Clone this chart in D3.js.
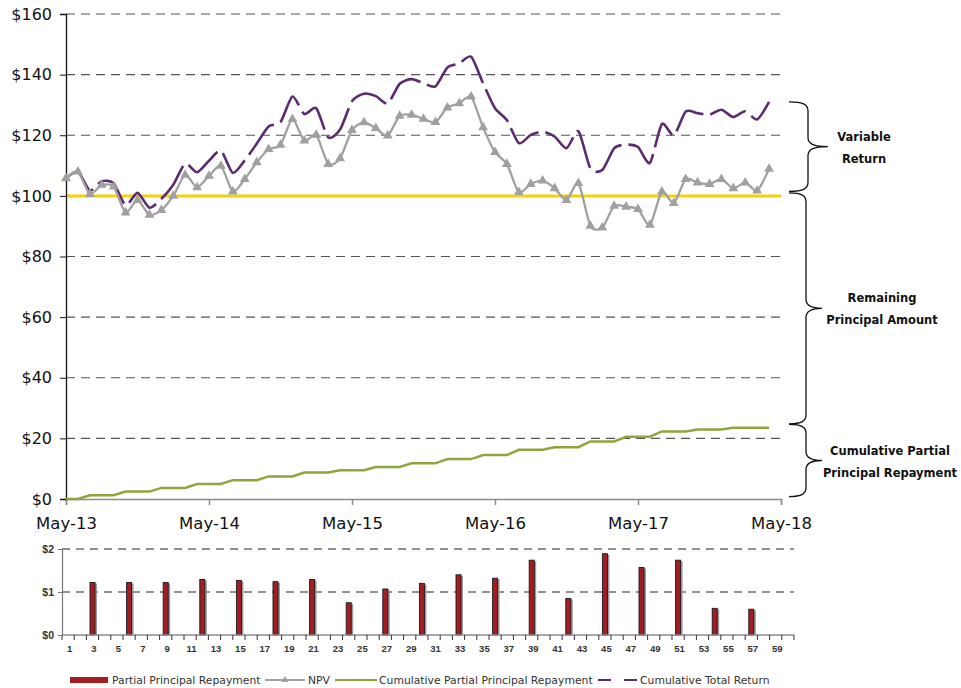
<!DOCTYPE html>
<html>
<head>
<meta charset="utf-8">
<script src="https://cdn.jsdelivr.net/npm/d3@7"></script>
<style>
  body { margin: 0; background: #fff; }
  text { font-family: "DejaVu Sans", Verdana, sans-serif; }
</style>
</head>
<body>
<script>
// ---- data ----
var yearLabels = ["May-13", "May-14", "May-15", "May-16", "May-17", "May-18"];
var yearMonths = [0, 12, 24, 36, 48, 60];
var yTicks = [0, 20, 40, 60, 80, 100, 120, 140, 160];
var principal = 100;

// monthly values, month 0 = May-13
var npv = [105.8, 108.0, 100.6, 103.6, 103.0, 94.5, 98.6, 93.7, 95.3, 100.0,
  106.9, 102.8, 106.6, 109.9, 101.4, 105.5, 111.0, 115.4, 116.8, 125.3,
  118.2, 120.1, 110.5, 112.4, 121.7, 124.2, 122.3, 119.9, 126.4, 126.7,
  125.4, 124.3, 129.1, 130.5, 132.7, 122.6, 114.4, 110.5, 101.2, 103.9,
  105.0, 102.5, 98.6, 104.2, 90.1, 89.5, 96.7, 96.4, 95.6, 90.4,
  101.4, 97.6, 105.5, 104.4, 103.9, 105.5, 102.5, 104.4, 101.7, 108.9];

var cumPartial = [0, 0, 1.22, 1.22, 1.22, 2.44, 2.44, 2.44, 3.66, 3.66,
  3.66, 4.95, 4.95, 4.95, 6.22, 6.22, 6.22, 7.46, 7.46, 7.46,
  8.75, 8.75, 8.75, 9.50, 9.50, 9.50, 10.57, 10.57, 10.57, 11.77,
  11.77, 11.77, 13.17, 13.17, 13.17, 14.49, 14.49, 14.49, 16.23, 16.23,
  16.23, 17.08, 17.08, 17.08, 18.97, 18.97, 18.97, 20.54, 20.54, 20.54,
  22.28, 22.28, 22.28, 22.90, 22.90, 22.90, 23.50, 23.50, 23.50, 23.50];

var cumTotal = [105.8, 108.0, 101.8, 104.8, 104.2, 96.9, 101.0, 96.1, 99.0, 103.7,
  110.6, 107.8, 111.6, 114.9, 107.6, 111.7, 117.2, 122.9, 124.3, 132.8,
  127.0, 128.9, 119.3, 121.9, 131.2, 133.7, 132.9, 130.5, 137.0, 138.5,
  137.2, 136.1, 142.3, 143.7, 145.9, 137.1, 128.9, 125.0, 117.4, 120.1,
  121.2, 119.6, 115.7, 121.3, 109.1, 108.5, 115.7, 116.9, 116.1, 110.9,
  123.7, 119.9, 127.8, 127.3, 126.8, 128.4, 126.0, 127.9, 125.2, 131.0];

// bar chart: payment number (1..60) and partial principal repayment
var payCategories = d3.range(1, 61);
var repayCats = [3, 6, 9, 12, 15, 18, 21, 24, 27, 30, 33, 36, 39, 42, 45, 48, 51, 54, 57];
var repayValues = [1.22, 1.22, 1.22, 1.29, 1.27, 1.24, 1.29, 0.75, 1.07, 1.20,
  1.40, 1.32, 1.74, 0.85, 1.89, 1.57, 1.74, 0.62, 0.60];
var barTicks = [0, 1, 2];

// brace annotations: [top value, bottom value, label lines]
var braces = [
  { top: 131, bottom: 101.5, lines: ["Variable", "Return"] },
  { top: 101, bottom: 24.8, lines: ["Remaining", "Principal Amount"] },
  { top: 24.6, bottom: 0.8, lines: ["Cumulative Partial", "Principal Repayment"] }
];

var seriesNames = ["Partial Principal Repayment", "NPV", "Cumulative Partial Principal Repayment", "Cumulative Total Return"];

// ---- colours ----
var cRed = "#a31d22", cGray = "#a0a0a0", cGreen = "#8fa63a", cPurple = "#5c2a6e", cYellow = "#f5d10c";

var svg = d3.select("body").append("svg")
  .attr("width", 961).attr("height", 688)
  .style("background", "#fff");

// ================= top chart =================
var x = d3.scaleLinear().domain([0, 60]).range([66, 781]);
var y = d3.scaleLinear().domain([0, 160]).range([499, 14]);

svg.append("g").selectAll("line")
  .data(yTicks.filter(function (d) { return d > 0; }))
  .enter().append("line")
  .attr("x1", x(0)).attr("x2", x(60))
  .attr("y1", function (d) { return y(d); })
  .attr("y2", function (d) { return y(d); })
  .attr("stroke", "#555").attr("stroke-width", 1.2)
  .attr("stroke-dasharray", "9,6");

// principal level
svg.append("line")
  .attr("x1", x(0)).attr("x2", x(60))
  .attr("y1", y(principal)).attr("y2", y(principal))
  .attr("stroke", cYellow).attr("stroke-width", 3);

var xAxis = svg.append("g")
  .attr("transform", "translate(0," + y(0) + ")")
  .call(d3.axisBottom(x).tickValues(yearMonths)
    .tickFormat(function (d, i) { return yearLabels[i]; })
    .tickSize(6).tickPadding(12));
xAxis.select(".domain").attr("stroke", "#8c8c8c").attr("stroke-width", 1.5);
xAxis.selectAll(".tick line").attr("stroke", "#8c8c8c").attr("stroke-width", 1.5);
xAxis.selectAll("text").attr("font-size", 16.5).attr("fill", "#111");

var yAxis = svg.append("g")
  .attr("transform", "translate(" + x(0) + ",0)")
  .call(d3.axisLeft(y).tickValues(yTicks)
    .tickFormat(function (d) { return "$" + d; })
    .tickSize(6).tickPadding(8));
yAxis.select(".domain").attr("stroke", "#111").attr("stroke-width", 1.3);
yAxis.selectAll(".tick line").attr("stroke", "#111");
yAxis.selectAll("text").attr("font-size", 16).attr("fill", "#111");

var smooth = d3.curveCardinal.tension(0.3);

// cumulative partial principal repayment
svg.append("path")
  .datum(cumPartial)
  .attr("fill", "none").attr("stroke", cGreen).attr("stroke-width", 2.5)
  .attr("d", d3.line()
    .x(function (d, i) { return x(i); })
    .y(function (d) { return y(d); }));

// cumulative total return
svg.append("path")
  .datum(cumTotal)
  .attr("fill", "none").attr("stroke", cPurple).attr("stroke-width", 2.6)
  .attr("stroke-dasharray", "40,7")
  .attr("d", d3.line().curve(smooth)
    .x(function (d, i) { return x(i); })
    .y(function (d) { return y(d); }));

// NPV
svg.append("path")
  .datum(npv)
  .attr("fill", "none").attr("stroke", cGray).attr("stroke-width", 2.3)
  .attr("d", d3.line().curve(smooth)
    .x(function (d, i) { return x(i); })
    .y(function (d) { return y(d); }));

var tri = d3.symbol().type(d3.symbolTriangle).size(42);
svg.append("g").selectAll("path")
  .data(npv)
  .enter().append("path")
  .attr("d", tri)
  .attr("transform", function (d, i) { return "translate(" + x(i) + "," + y(d) + ")"; })
  .attr("fill", cGray);

// braces
function bracePath(x0, xv, tip, y0, y1) {
  var ym = (y0 + y1) / 2, r = 9;
  return "M" + x0 + "," + y0 +
    "C" + (xv - 4) + "," + y0 + " " + xv + "," + (y0 + 3) + " " + xv + "," + (y0 + r) +
    "L" + xv + "," + (ym - r) +
    "C" + xv + "," + (ym - 3) + " " + (xv + 5) + "," + ym + " " + tip + "," + ym +
    "C" + (xv + 5) + "," + ym + " " + xv + "," + (ym + 3) + " " + xv + "," + (ym + r) +
    "L" + xv + "," + (y1 - r) +
    "C" + xv + "," + (y1 - 3) + " " + (xv - 4) + "," + y1 + " " + x0 + "," + y1;
}
var braceX = [{ xv: 808, tip: 828, tx: 864 }, { xv: 806, tip: 822, tx: 882 }, { xv: 806, tip: 822, tx: 890 }];
braces.forEach(function (b, i) {
  var y0 = y(b.top), y1 = y(b.bottom), ym = (y0 + y1) / 2;
  svg.append("path")
    .attr("d", bracePath(789, braceX[i].xv, braceX[i].tip, y0, y1))
    .attr("fill", "none").attr("stroke", "#111").attr("stroke-width", 1.3);
  svg.append("g").selectAll("text")
    .data(b.lines).enter().append("text")
    .attr("x", braceX[i].tx)
    .attr("y", function (d, j) { return ym - 6 + j * 22; })
    .attr("text-anchor", "middle")
    .attr("font-size", 11.5).attr("font-weight", "bold").attr("fill", "#111")
    .text(function (d) { return d; });
});

// ================= bar chart =================
var xb = d3.scaleBand().domain(payCategories).range([62, 794]).padding(0);
var yb = d3.scaleLinear().domain([0, 2]).range([635, 549]);

svg.append("g").selectAll("line")
  .data([1, 2]).enter().append("line")
  .attr("x1", 62).attr("x2", 794)
  .attr("y1", function (d) { return yb(d); })
  .attr("y2", function (d) { return yb(d); })
  .attr("stroke", "#222").attr("stroke-width", 1)
  .attr("stroke-dasharray", "8,6");

var bw = 5;
var bars = svg.append("g").selectAll("g")
  .data(repayCats).enter().append("g");
bars.append("rect")
  .attr("x", function (d) { return xb(d) + xb.bandwidth() / 2 - bw / 2 + 2; })
  .attr("y", function (d, i) { return yb(repayValues[i]) + 1; })
  .attr("width", bw)
  .attr("height", function (d, i) { return yb(0) - yb(repayValues[i]) - 1; })
  .attr("fill", "#9a9a9a");
bars.append("rect")
  .attr("x", function (d) { return xb(d) + xb.bandwidth() / 2 - bw / 2; })
  .attr("y", function (d, i) { return yb(repayValues[i]); })
  .attr("width", bw)
  .attr("height", function (d, i) { return yb(0) - yb(repayValues[i]); })
  .attr("fill", cRed).attr("stroke", "#1a1a1a").attr("stroke-width", 0.9);

// bar x axis: line, ticks between categories, odd labels
svg.append("line")
  .attr("x1", 62).attr("x2", 794).attr("y1", yb(0)).attr("y2", yb(0))
  .attr("stroke", "#8c8c8c").attr("stroke-width", 1.3);
svg.append("g").selectAll("line")
  .data(payCategories.concat([61])).enter().append("line")
  .attr("x1", function (d) { return 62 + (d - 1) * xb.step(); })
  .attr("x2", function (d) { return 62 + (d - 1) * xb.step(); })
  .attr("y1", yb(0)).attr("y2", yb(0) + 5)
  .attr("stroke", "#333").attr("stroke-width", 1);
svg.append("g").selectAll("text")
  .data(payCategories.filter(function (d) { return d % 2 === 1; }))
  .enter().append("text")
  .attr("x", function (d) { return xb(d) + xb.bandwidth() / 2 + 1.5; })
  .attr("y", yb(0) + 17)
  .attr("text-anchor", "middle")
  .attr("font-size", 9.5).attr("font-weight", "bold")
  .style("font-family", "'Liberation Sans', Arial, sans-serif")
  .attr("fill", "#333")
  .text(function (d) { return d; });

var yAxisB = svg.append("g")
  .attr("transform", "translate(62,0)")
  .call(d3.axisLeft(yb).tickValues(barTicks)
    .tickFormat(function (d) { return "$" + d; })
    .tickSize(4).tickPadding(4));
yAxisB.select(".domain").attr("stroke", "#777").attr("stroke-width", 1.2);
yAxisB.selectAll(".tick line").attr("stroke", "#777");
yAxisB.selectAll("text").attr("font-size", 10.5).attr("font-weight", "bold")
  .style("font-family", "'Liberation Sans', Arial, sans-serif").attr("fill", "#333");

// ================= legend =================
var ly = 680;
var leg = svg.append("g").attr("font-size", 10.8).attr("fill", "#333");
leg.append("rect").attr("x", 70).attr("y", ly - 3).attr("width", 38).attr("height", 6).attr("fill", cRed);
leg.append("text").attr("x", 112).attr("y", ly + 4).text(seriesNames[0]);
leg.append("line").attr("x1", 265).attr("x2", 305).attr("y1", ly).attr("y2", ly)
  .attr("stroke", cGray).attr("stroke-width", 2);
leg.append("path").attr("d", d3.symbol().type(d3.symbolTriangle).size(22))
  .attr("transform", "translate(285," + ly + ")").attr("fill", cGray);
leg.append("text").attr("x", 308).attr("y", ly + 4).text(seriesNames[1]);
leg.append("line").attr("x1", 335).attr("x2", 377).attr("y1", ly).attr("y2", ly)
  .attr("stroke", cGreen).attr("stroke-width", 2);
leg.append("text").attr("x", 379).attr("y", ly + 4).text(seriesNames[2]);
leg.append("line").attr("x1", 598).attr("x2", 637).attr("y1", ly).attr("y2", ly)
  .attr("stroke", cPurple).attr("stroke-width", 2).attr("stroke-dasharray", "13,13");
leg.append("text").attr("x", 640).attr("y", ly + 4).text(seriesNames[3]);
</script>
</body>
</html>
